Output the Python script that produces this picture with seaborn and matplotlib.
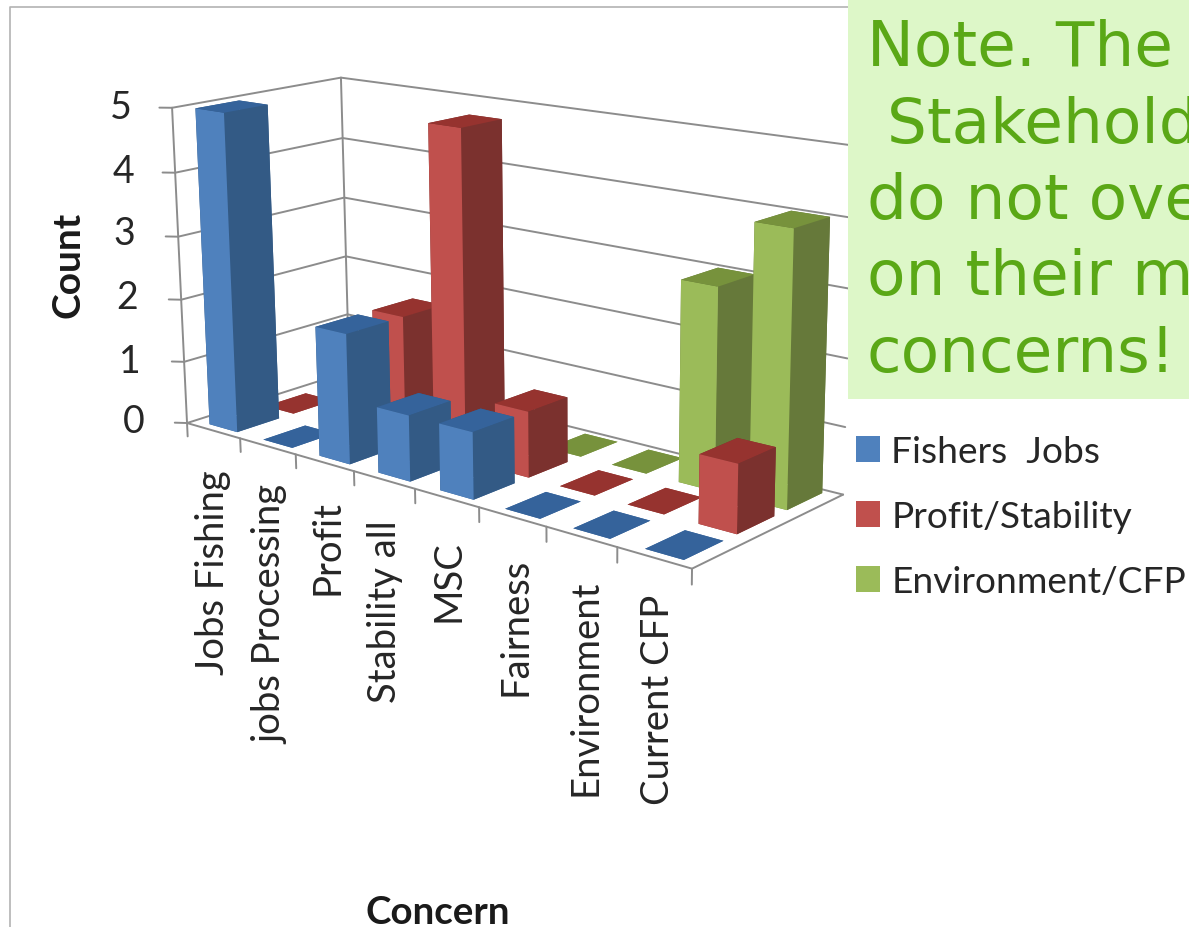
import matplotlib
matplotlib.use("Agg")
import matplotlib.pyplot as plt
import seaborn as sns
from matplotlib.lines import Line2D
from matplotlib.patches import Patch, Rectangle
from mpl_toolkits.mplot3d import Axes3D  # noqa: F401

concerns = ["Jobs Fishing", "jobs Processing", "Profit", "Stability all",
            "MSC", "Fairness", "Environment", "Current CFP"]
series_names = ["Fishers  Jobs", "Profit/Stability", "Environment/CFP"]
fishers_jobs = [5, 0, 2, 1, 1, 0, 0, 0]
profit_stability = [0, 0, 2, 5, 1, 0, 0, 1]
environment_cfp = [0, 0, 0, 0, 0, 0, 3, 4]
count_ticks = [0, 1, 2, 3, 4, 5]
note_lines = ["Note. The", " Stakehold", "do not ove", "on their m", "concerns!"]

FIG_W, FIG_H = 1189, 928
front_colors = ["#4f81bd", "#c0504d", "#9bbb59"]
top_colors = ["#35639b", "#96332f", "#77923c"]
side_colors = ["#335a85", "#7b312e", "#66793a"]
GRID = "#8c8c8c"

sns.set_theme(style="white")
plt.rcParams["font.family"] = ["Lato", "DejaVu Sans"]

fig = plt.figure(figsize=(FIG_W / 100, FIG_H / 100), dpi=100, facecolor="white")
ax = fig.add_subplot(projection="3d", computed_zorder=False)
n_cat, n_ser, z_max = len(concerns), len(series_names), max(count_ticks)
ax.set_xlim(0, n_cat)
ax.set_ylim(0, n_ser)
ax.set_zlim(0, z_max)
ax.view_init(14.57, -49.17, 0.60)
ax.set_proj_type("persp", focal_length=0.5355)
ax.set_box_aspect((1, 0.3733, 0.514))
ax.set_axis_off()
ax.patch.set_alpha(0)

# Place the 3D box: pixels per projected unit and the pixel origin of the view.
scale, origin_x, origin_y = 4138.3, 496.0, 295.5
view = ax.viewLim
side = scale * view.width
left = origin_x + scale * view.x0
top = origin_y - scale * view.y1
ax.set_position([left / FIG_W, (FIG_H - top - side) / FIG_H, side / FIG_W, side / FIG_H])


def line3d(xs, ys, zs, z=1):
    ax.plot(xs, ys, zs, color=GRID, lw=1.4, zorder=z, clip_on=False)


# Walls, floor and ticks
for z in count_ticks:
    line3d([0, 0, n_cat], [0, n_ser, n_ser], [z, z, z])
    line3d([-0.135, 0], [-0.09, 0], [z, z])
line3d([0, 0], [0, 0], [0, z_max])
line3d([0, 0], [n_ser, n_ser], [0, z_max])
line3d([0, n_cat, n_cat], [0, 0, n_ser], [0, 0, 0])
for i in range(n_cat + 1):
    line3d([i, i], [0, 0], [0, -0.22])

# Bars, painted from the far series to the near one
BAR_X, BAR_Y = 0.52, 0.74
BAR_X0, BAR_Y0 = 0.265, 0.15
series_values = [fishers_jobs, profit_stability, environment_cfp]
order = 10
for j in reversed(range(n_ser)):
    faces = [top_colors[j], top_colors[j], front_colors[j], side_colors[j],
             side_colors[j], side_colors[j]]
    for i, value in enumerate(series_values[j]):
        ax.bar3d(i + BAR_X0, j + BAR_Y0, 0, BAR_X, BAR_Y, value,
                 color=faces, shade=False, linewidth=0.3, edgecolor="none",
                 zorder=order)
        order += 1


def at(x, y, s, **kw):
    return fig.text(x / FIG_W, 1 - y / FIG_H, s, **kw)


# Tick labels and axis titles
count_y = [422, 362, 298, 234, 172, 108]
count_x = [145, 141, 138, 135, 134, 132]
for value, x, y in zip(count_ticks, count_x, count_y):
    at(x, y, str(value), ha="right", va="center", fontsize=27, color="#262626")
label_x = [213, 270, 328, 385, 448, 515, 585, 658]
label_top = [470, 485, 500, 520, 540, 558, 580, 595]
for name, x, y in zip(concerns, label_x, label_top):
    at(x, y, name, rotation=90, ha="center", va="top", fontsize=27.5, color="#262626")
at(68, 265, "Count", rotation=90, ha="center", va="center", fontsize=28,
   fontweight="bold", color="#1a1a1a")
at(438, 913, "Concern", ha="center", va="center", fontsize=27.7,
   fontweight="bold", color="#1a1a1a")

# Legend
handles = [Patch(facecolor=c, edgecolor="none") for c in front_colors]
fig.legend(handles, series_names, loc="upper left",
           bbox_to_anchor=(845 / FIG_W, 1 - 425 / FIG_H), frameon=False,
           fontsize=26.7, handlelength=0.65, handleheight=0.7, handletextpad=0.3,
           labelspacing=0.86, labelcolor="#262626", borderaxespad=0, borderpad=0.3)

# Chart frame and note box
fig.add_artist(Line2D([10 / FIG_W, 10 / FIG_W, 848 / FIG_W],
                      [0, 1 - 8 / FIG_H, 1 - 8 / FIG_H], color="#b3b3b3", lw=1.2))
fig.add_artist(Rectangle((848 / FIG_W, 1 - 400 / FIG_H), 341 / FIG_W, 400 / FIG_H,
                         transform=fig.transFigure, facecolor="#ddf7c8",
                         edgecolor="none", zorder=5))
for k, line in enumerate(note_lines):
    at(867, 66 + 76.5 * k, line, ha="left", va="baseline", fontsize=45.3,
       family="DejaVu Sans", color="#5aa816", zorder=6)

fig.savefig("out.png", dpi=100)
